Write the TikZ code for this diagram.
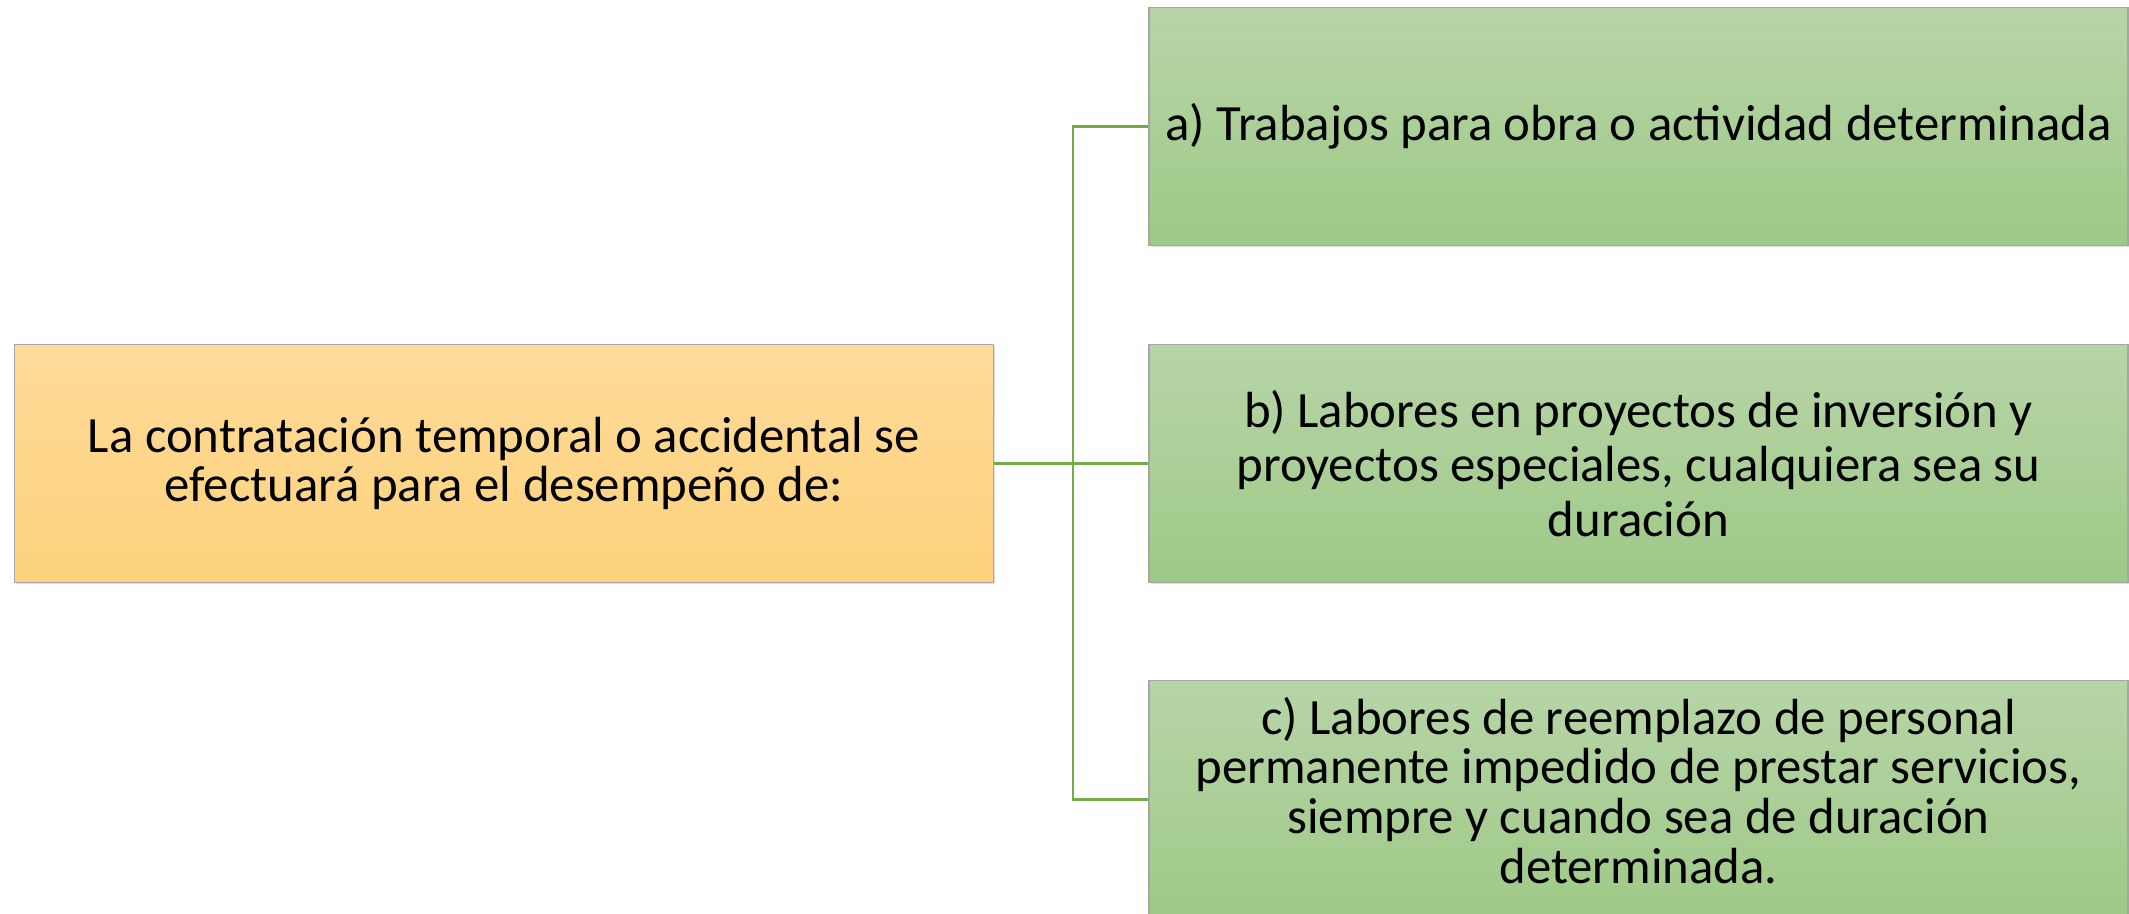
\documentclass[tikz,border=0pt]{standalone}
\usepackage{fontspec}
\setmainfont{Carlito}
\usetikzlibrary{shadows}
\definecolor{orgtop}{RGB}{254,219,153}
\definecolor{orgbot}{RGB}{254,210,124}
\definecolor{grntop}{RGB}{183,213,167}
\definecolor{grnbot}{RGB}{158,201,135}
\definecolor{conn}{RGB}{112,173,71}
\tikzset{
  box/.style={draw=black!35, line width=1.2bp, minimum width=979bp, minimum height=238bp,
    align=center, inner sep=4bp, font=\fontsize{51}{49.5}\selectfont, text=black,
    drop shadow={shadow xshift=1.5bp, shadow yshift=-1.5bp, opacity=0.25}},
  orgbox/.style={box, top color=orgtop, bottom color=orgbot},
  grnbox/.style={box, top color=grntop, bottom color=grnbot},
  txt/.style={align=center, inner sep=0pt, font=\fontsize{51}{50}\selectfont, text=black},
  link/.style={draw=conn, line width=2.2bp}
}
\begin{document}
\begin{tikzpicture}[x=1bp,y=-1bp]
\useasboundingbox (0,0) rectangle (2129,914);
\fill[white] (0,0) rectangle (2129,914);
\node[orgbox] (root) at (504,463.5) {La contratación temporal o accidental se\\efectuará para el desempeño de:};
\node[grnbox] (a) at (1638.5,126.5) {a) Trabajos para obra o actividad determinada};
\node[grnbox] (b) at (1638.5,463.5) {b) Labores en proyectos de inversión y\\[5bp]proyectos especiales, cualquiera sea su\\[5bp]duración};
\node[grnbox] (c) at (1638.5,799.5) {};
\node[txt] (ctext) at ([yshift=9bp]c.center) {c) Labores de reemplazo de personal\\permanente impedido de prestar servicios,\\siempre y cuando sea de duración\\determinada.};
\coordinate (j) at (1073,463.5);
\draw[link] (root.east) -- (j);
\draw[link] (j) -- (b.west);
\draw[link] (a.west) -| (j) |- (c.west);
\end{tikzpicture}
\end{document}
